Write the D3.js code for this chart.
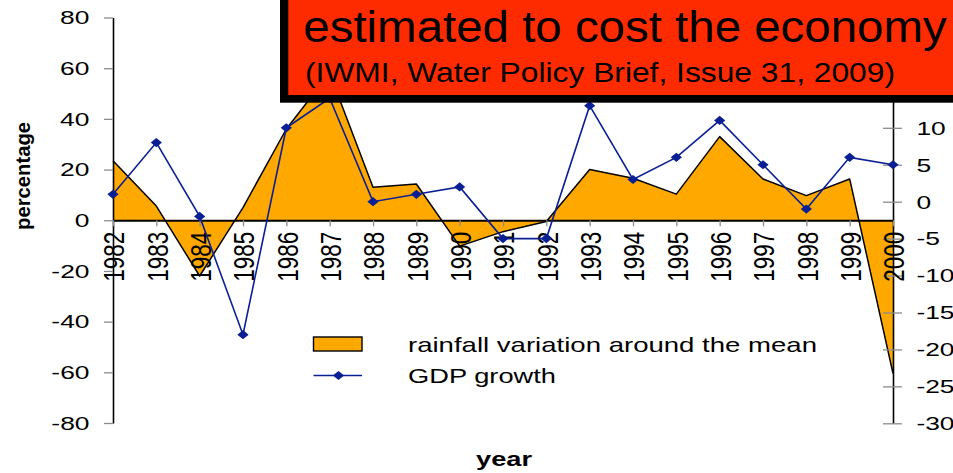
<!DOCTYPE html>
<html>
<head>
<meta charset="utf-8">
<script src="https://cdn.jsdelivr.net/npm/d3@7/dist/d3.min.js"></script>
<style>
  html, body { margin: 0; padding: 0; background: #fff; }
  svg { display: block; font-family: "Liberation Sans", Arial, sans-serif; }
</style>
</head>
<body>
<svg id="chart" width="953" height="473"></svg>
<script>
// Rainfall variation (% around the mean) and GDP growth (%), 1982-2000
const years = [1982, 1983, 1984, 1985, 1986, 1987, 1988, 1989, 1990, 1991,
               1992, 1993, 1994, 1995, 1996, 1997, 1998, 1999, 2000];
const rainfall = [23.5, 5.6, -22, 5, 36, 58, 13, 14.3, -10.2, -4.5,
                  -0.5, 20, 16.6, 10.3, 33, 16.3, 9.7, 16.3, -60.4];
const gdpGrowth = [1, 8, -2, -18, 10, 14, 0, 1, 2, -5,
                   -5, 13, 3, 6, 11, 5, -1, 6, 5];
const leftTicks = [-80, -60, -40, -20, 0, 20, 40, 60, 80];
const rightTicks = [-30, -25, -20, -15, -10, -5, 0, 5, 10, 15, 20, 25];
const seriesNames = ["rainfall variation around the mean", "GDP growth"];
const titleLines = ["estimated to cost the economy", "(IWMI, Water Policy Brief, Issue 31, 2009)"];

const svg = d3.select("#chart");
const ORANGE = "#FFA900", NAVY = "#0a1f94", RED = "#FF2B00", TICK = "#8c8c8c";
const FONT = "Liberation Sans, Arial, sans-serif";
const plain = d => String(d);   // ASCII hyphen for negatives

const x = d3.scaleLinear().domain([1982, 2000]).range([113, 893]);
const yL = d3.scaleLinear().domain([-80, 80]).range([423, 17.5]);
const yR = d3.scaleLinear().domain([-30, 25]).range([423.3, 17]);

const rows = years.map((yr, i) => ({ yr, rain: rainfall[i], gdp: gdpGrowth[i] }));

// rainfall area filled against the zero line
svg.append("path")
  .datum(rows)
  .attr("fill", ORANGE)
  .attr("d", d3.area().x(d => x(d.yr)).y0(yL(0)).y1(d => yL(d.rain)));
svg.append("path")
  .datum(rows)
  .attr("fill", "none")
  .attr("stroke", "#000")
  .attr("stroke-width", 1.5)
  .attr("stroke-linejoin", "round")
  .attr("d", d3.line().x(d => x(d.yr)).y(d => yL(d.rain)));

// horizontal-stretch factors for the axis lettering
const SX_TICK = 1.42, SX_YEAR = 1.35;

// left axis (percentage)
const gl = svg.append("g").attr("transform", `translate(${x(1982)},0)`)
  .call(d3.axisLeft(yL).tickValues(leftTicks).tickSize(9).tickSizeOuter(0).tickFormat(plain));
gl.select(".domain").attr("stroke", "#000").attr("stroke-width", 1.6);
gl.selectAll(".tick line").attr("stroke", TICK).attr("stroke-width", 1.3);
gl.selectAll(".tick text")
  .attr("x", 0).attr("dy", "0.34em")
  .attr("transform", `translate(-23.5,0) scale(${SX_TICK},1)`)
  .attr("font-size", 18.6).attr("fill", "#000").attr("font-family", FONT);

// right axis (GDP growth)
const gr = svg.append("g").attr("transform", `translate(${x(2000)},0)`)
  .call(d3.axisRight(yR).tickValues(rightTicks).tickSize(9).tickSizeOuter(0).tickFormat(plain));
gr.select(".domain").attr("stroke", "#000").attr("stroke-width", 1.6);
gr.selectAll(".tick line").attr("stroke", TICK).attr("stroke-width", 1.3);
gr.selectAll(".tick text")
  .attr("x", 0).attr("dy", "0.34em")
  .attr("transform", `translate(23.4,0) scale(${SX_TICK},1)`)
  .attr("font-size", 18.6).attr("fill", "#000").attr("font-family", FONT);
// inner half of the right-axis ticks
const gri = svg.append("g").attr("transform", `translate(${x(2000)},0)`)
  .call(d3.axisLeft(yR).tickValues(rightTicks).tickSize(10).tickSizeOuter(0).tickFormat(""));
gri.select(".domain").remove();
gri.selectAll(".tick line").attr("stroke", TICK).attr("stroke-width", 1.3);

// year axis along the zero line
const gx = svg.append("g").attr("transform", `translate(0,${yL(0)})`)
  .call(d3.axisBottom(x).tickValues(years).tickSize(6).tickSizeOuter(0).tickFormat(d3.format("d")));
gx.select(".domain").attr("stroke", "#000").attr("stroke-width", 1.8);
gx.selectAll(".tick line").attr("stroke", TICK).attr("stroke-width", 1.3);
gx.selectAll(".tick text")
  .attr("x", 0).attr("y", 0).attr("dy", "0.36em")
  .attr("text-anchor", "end")
  .attr("transform", `translate(0,11.4) scale(${SX_YEAR},1) rotate(-90)`)
  .attr("font-size", 22.5).attr("fill", "#000").attr("font-family", FONT);

// GDP growth line with diamond markers
const diamond = "M0,-4.6L5.6,0L0,4.6L-5.6,0Z";
svg.append("path")
  .datum(rows)
  .attr("fill", "none")
  .attr("stroke", NAVY)
  .attr("stroke-width", 1.6)
  .attr("d", d3.line().x(d => x(d.yr)).y(d => yR(d.gdp)));
svg.append("g").selectAll("path").data(rows).join("path")
  .attr("transform", d => `translate(${x(d.yr)},${yR(d.gdp)})`)
  .attr("d", diamond)
  .attr("fill", NAVY);

// axis titles
svg.append("text")
  .attr("transform", "translate(23,176) rotate(-90)")
  .attr("text-anchor", "middle").attr("dominant-baseline", "central")
  .attr("font-weight", "bold").attr("font-size", 20)
  .attr("textLength", 108).attr("lengthAdjust", "spacingAndGlyphs")
  .text("percentage");
svg.append("text")
  .attr("x", 476).attr("y", 466)
  .attr("font-weight", "bold").attr("font-size", 20)
  .attr("textLength", 56).attr("lengthAdjust", "spacingAndGlyphs")
  .text("year");

// legend
const lg = svg.append("g");
lg.append("rect").attr("x", 313.5).attr("y", 337).attr("width", 48.5).attr("height", 14)
  .attr("fill", ORANGE).attr("stroke", "#000").attr("stroke-width", 1.4);
lg.append("line").attr("x1", 313.5).attr("x2", 362).attr("y1", 375.5).attr("y2", 375.5)
  .attr("stroke", NAVY).attr("stroke-width", 1.6);
lg.append("path").attr("transform", "translate(338.5,375.5)").attr("d", diamond).attr("fill", NAVY);
lg.append("text").attr("x", 408).attr("y", 352).attr("font-size", 21)
  .attr("textLength", 409).attr("lengthAdjust", "spacingAndGlyphs").text(seriesNames[0]);
lg.append("text").attr("x", 408).attr("y", 383).attr("font-size", 21)
  .attr("textLength", 148).attr("lengthAdjust", "spacingAndGlyphs").text(seriesNames[1]);

// callout box with the quote
const box = svg.append("g");
box.append("rect").attr("x", 280).attr("y", -10).attr("width", 700).attr("height", 112.7).attr("fill", "#000");
box.append("rect").attr("x", 288.3).attr("y", -10).attr("width", 700).attr("height", 105).attr("fill", RED);
box.append("text").attr("x", 303.3).attr("y", 41.7).attr("font-size", 45)
  .attr("textLength", 643.4).attr("lengthAdjust", "spacingAndGlyphs").text(titleLines[0]);
box.append("text").attr("x", 305).attr("y", 81.7).attr("font-size", 28)
  .attr("textLength", 590).attr("lengthAdjust", "spacingAndGlyphs").text(titleLines[1]);
</script>
</body>
</html>
